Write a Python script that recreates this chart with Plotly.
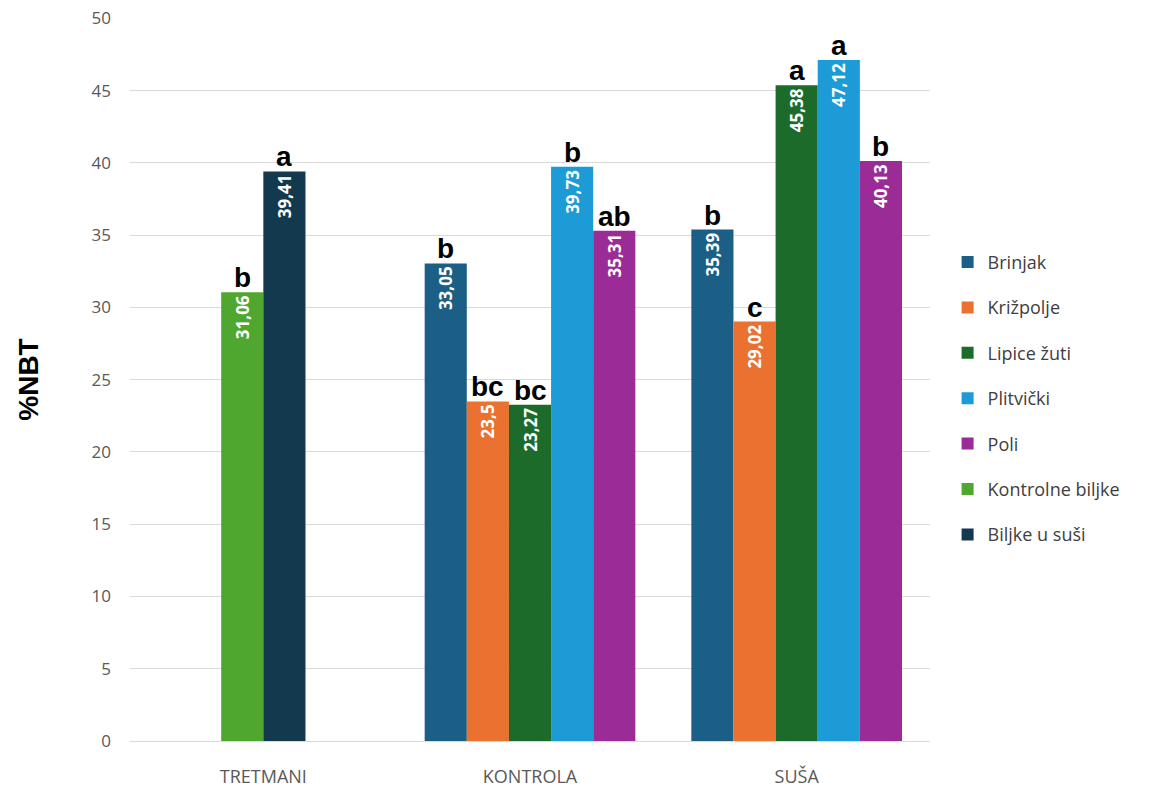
import plotly.graph_objects as go

categories = ["TRETMANI", "KONTROLA", "SUŠA"]
series_names = ["Brinjak", "Križpolje", "Lipice žuti", "Plitvički", "Poli",
                "Kontrolne biljke", "Biljke u suši"]
colors = ["#1C5F86", "#EA7130", "#1D6B2B", "#1C9BD6", "#9B2B96", "#50A72F", "#13394F"]

values = {
    "Brinjak":          [None, 33.05, 35.39],
    "Križpolje":        [None, 23.5, 29.02],
    "Lipice žuti":      [None, 23.27, 45.38],
    "Plitvički":        [None, 39.73, 47.12],
    "Poli":             [None, 35.31, 40.13],
    "Kontrolne biljke": [31.06, None, None],
    "Biljke u suši":    [39.41, None, None],
}
letters = {
    "Brinjak":          [None, "b", "b"],
    "Križpolje":        [None, "bc", "c"],
    "Lipice žuti":      [None, "bc", "a"],
    "Plitvički":        [None, "b", "a"],
    "Poli":             [None, "ab", "b"],
    "Kontrolne biljke": ["b", None, None],
    "Biljke u suši":    ["a", None, None],
}
y_ticks = [0, 5, 10, 15, 20, 25, 30, 35, 40, 45, 50]

W = 0.158  # bar width in category units

present = {ci: [s for s in series_names if values[s][ci] is not None] for ci in range(len(categories))}

fig = go.Figure()
annotations = []
for s, col in zip(series_names, colors):
    xs, ys, offs, txt = [], [], [], []
    for ci, cat in enumerate(categories):
        v = values[s][ci]
        if v is None:
            continue
        n = len(present[ci])
        k = present[ci].index(s)
        off = (k - n / 2) * W
        xs.append(cat)
        ys.append(v)
        offs.append(off)
        txt.append(f"{v:g}".replace(".", ","))
        annotations.append(dict(
            x=ci + off + W / 2, y=v, xref="x", yref="y",
            text=f"<b>{letters[s][ci]}</b>", showarrow=False,
            yanchor="bottom", yshift=-3,
            font=dict(family="Liberation Sans, Arial", size=28, color="#000000"),
        ))
    fig.add_trace(go.Bar(
        name=s, x=xs, y=ys, offset=offs, width=W,
        marker=dict(color=col, line=dict(width=0)),
        text=txt, textposition="inside", insidetextanchor="end", textangle=-90,
        textfont=dict(family="Open Sans, Arial", size=17, color="white", weight="bold"),
        cliponaxis=False, legendgroup=s,
    ))

fig.update_layout(
    width=1150, height=781,
    barmode="overlay",
    paper_bgcolor="white", plot_bgcolor="white",
    margin=dict(l=122, r=228, t=10, b=48, autoexpand=False),
    font=dict(family="Open Sans, Arial", color="#595959"),
    annotations=annotations,
    legend=dict(
        x=1.022, y=0.474, xanchor="left", yanchor="middle",
        font=dict(size=18, color="#404040"),
        traceorder="grouped", tracegroupgap=19,
        itemwidth=30,
    ),
    xaxis=dict(
        type="category", categoryarray=categories, categoryorder="array",
        range=[-0.5, 2.5], showgrid=False, showline=False, zeroline=False,
        ticks="", tickfont=dict(size=18, color="#595959"), ticklabelstandoff=23,
        automargin=False,
    ),
    yaxis=dict(
        range=[0, 50.03], tickvals=y_ticks, ticklabeloverflow="allow",
        showgrid=True, gridcolor="#D9D9D9", gridwidth=1,
        zeroline=True, zerolinecolor="#D9D9D9", zerolinewidth=1,
        tickfont=dict(size=17, color="#595959"), ticks="", ticklabelstandoff=18,
        automargin=False,
        title=dict(text="<b>%NBT</b>", font=dict(family="Liberation Sans, Arial", size=28, color="#000000"),
                   standoff=44),
    ),
)

fig.write_html("out.html")
